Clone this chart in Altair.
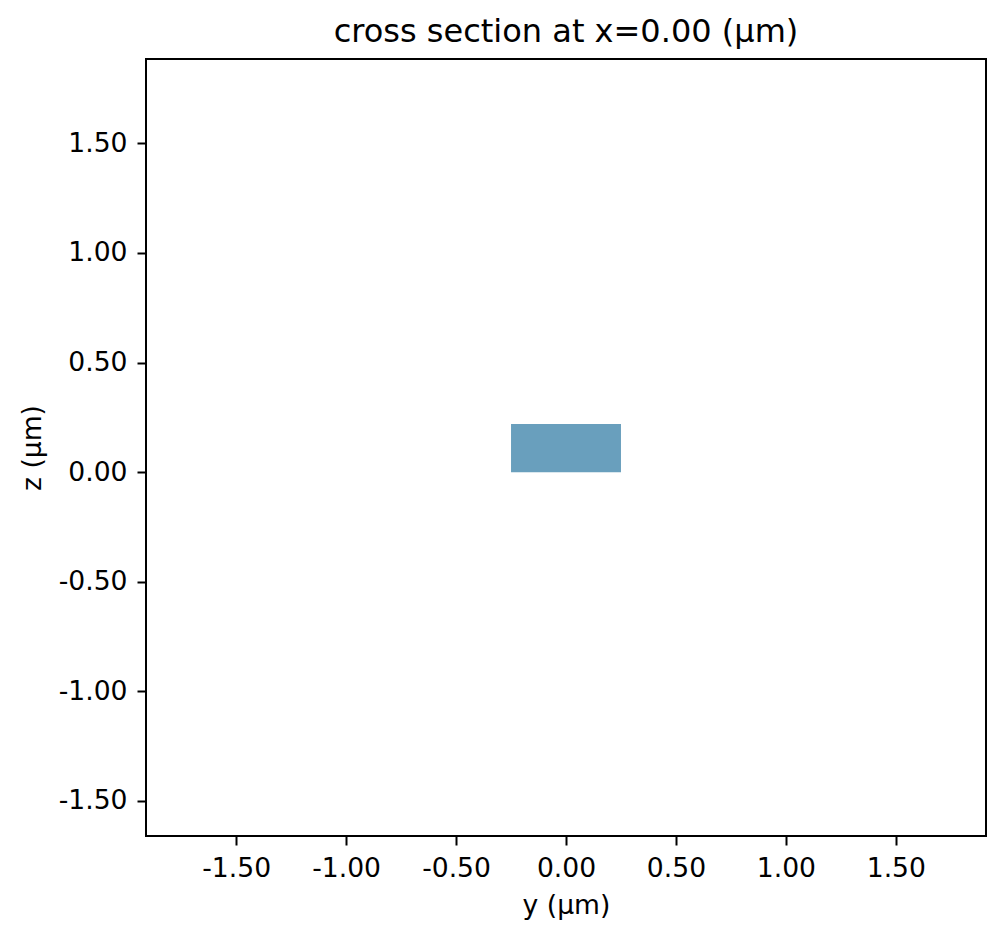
import altair as alt
import pandas as pd

# data
rect_y0 = [-0.25]
rect_y1 = [0.25]
rect_z0 = [0.0]
rect_z1 = [0.22]
x_ticks = [-1.5, -1.0, -0.5, 0.0, 0.5, 1.0, 1.5]
y_ticks = [-1.5, -1.0, -0.5, 0.0, 0.5, 1.0, 1.5]
x_domain = [-1.91, 1.91]
y_domain = [-1.66, 1.885]

df = pd.DataFrame({"y0": rect_y0, "y1": rect_y1, "z0": rect_z0, "z1": rect_z1})

FONT = "DejaVu Sans"
FS = 26.6
LBL = "replace(format(datum.value, '.2f'), '\u2212', '-')"

chart = alt.Chart(df).mark_rect(color="#699fbd", opacity=1).encode(
    x=alt.X("y0:Q", scale=alt.Scale(domain=x_domain, nice=False, zero=False),
            axis=alt.Axis(title="y (µm)", values=x_ticks, labelExpr=LBL, grid=False,
                          domain=False, tickSize=9, tickWidth=2, tickColor="black",
                          labelPadding=10, labelFont=FONT, labelFontSize=FS,
                          labelColor="black", labelFlush=False, labelOverlap=False,
                          titleFont=FONT, titleFontSize=FS, titleFontWeight="normal",
                          titleColor="black", titleBaseline="alphabetic", titleY=77)),
    x2="y1:Q",
    y=alt.Y("z0:Q", scale=alt.Scale(domain=y_domain, nice=False, zero=False),
            axis=alt.Axis(title="z (µm)", values=y_ticks, labelExpr=LBL, grid=False,
                          domain=False, tickSize=9, tickWidth=2, tickColor="black",
                          labelPadding=10, labelFont=FONT, labelFontSize=FS,
                          labelColor="black", labelFlush=False, labelOverlap=False,
                          titleFont=FONT, titleFontSize=FS, titleFontWeight="normal",
                          titleColor="black", titleBaseline="alphabetic", titleX=-106)),
    y2="z1:Q",
).properties(
    width=840,
    height=777,
    background="white",
    title=alt.TitleParams("cross section at x=0.00 (µm)", font=FONT, fontSize=32,
                          fontWeight="normal", color="black", anchor="middle",
                          baseline="alphabetic", offset=17, dy=32),
    autosize=alt.AutoSizeParams(type="none"),
    padding={"left": 138, "top": 51, "right": 5, "bottom": 88},
).configure_view(stroke="black", strokeWidth=2, strokeOpacity=1)

chart.save("out.html", embed_options={"renderer": "svg", "actions": False})
